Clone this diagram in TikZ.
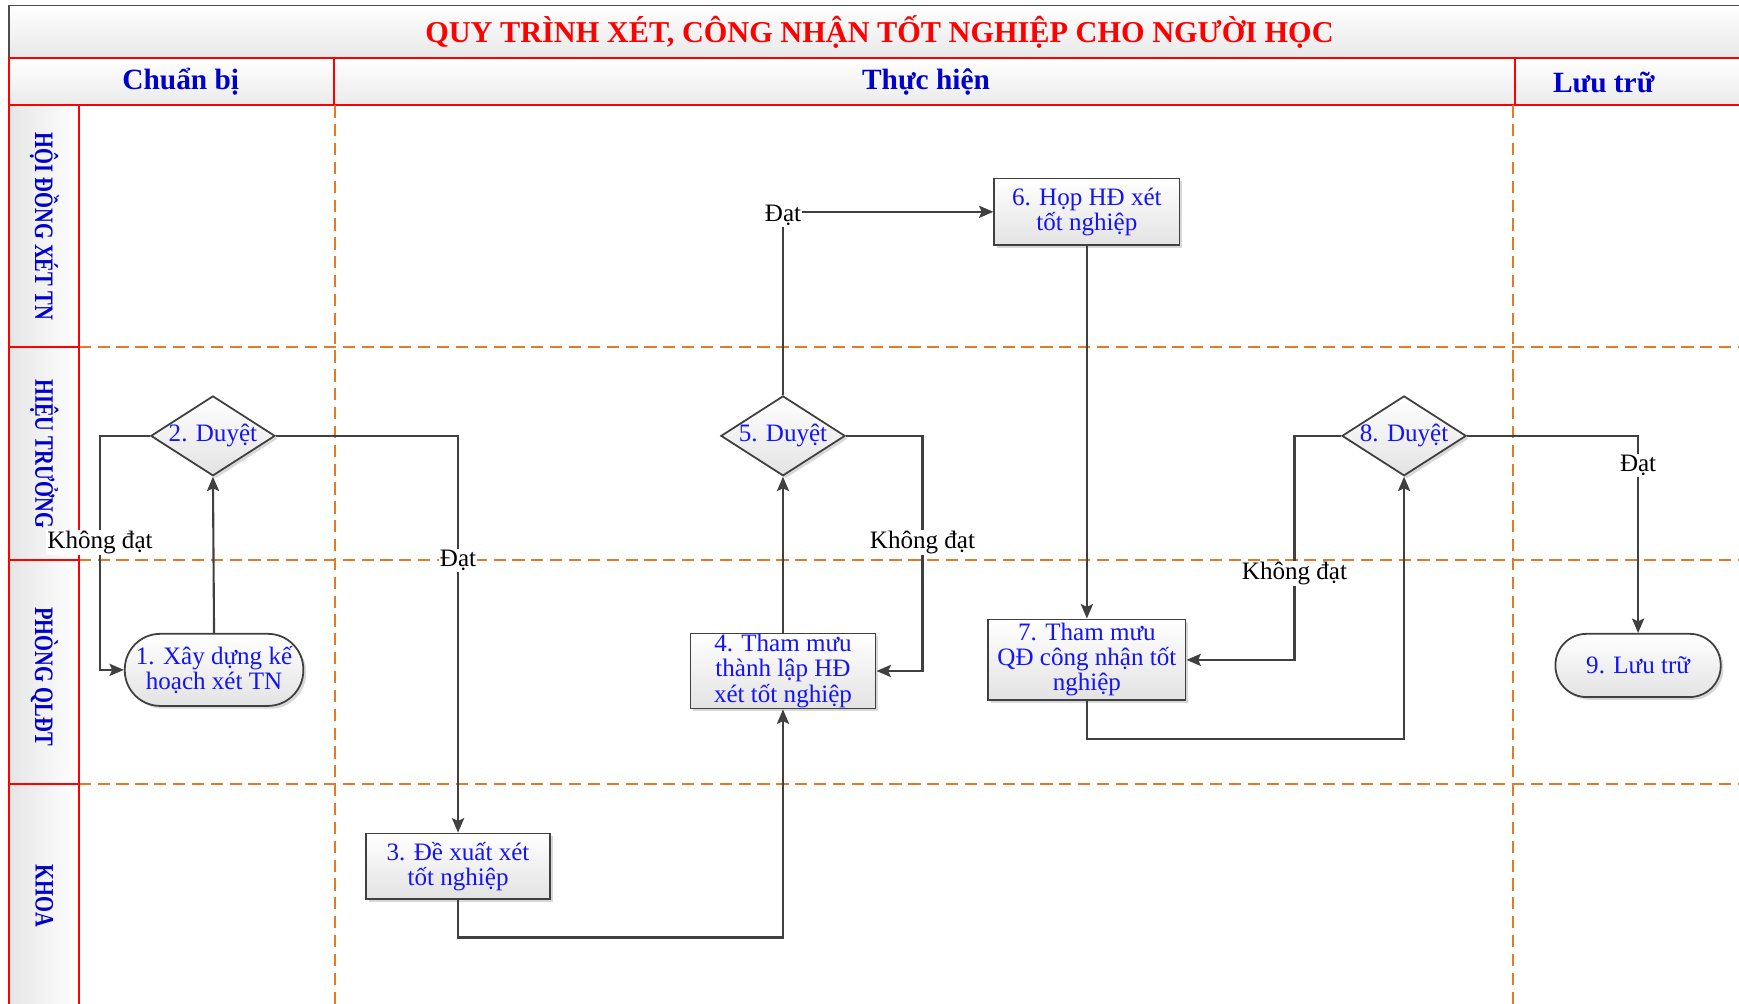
\documentclass[tikz,border=0pt]{standalone}
\usepackage{fontspec}
\usepackage{graphicx}
\setmainfont{Liberation Serif}
\usetikzlibrary{shapes.geometric,arrows.meta,shadows}
\definecolor{nodeblue}{RGB}{20,20,245}
\definecolor{headblue}{RGB}{0,0,205}
\definecolor{lanered}{RGB}{255,0,0}
\definecolor{dashorange}{RGB}{226,122,38}
\definecolor{linegray}{RGB}{64,64,64}
\definecolor{titlered}{RGB}{255,0,0}
\begin{document}
\begin{tikzpicture}[x=1pt,y=-1pt,
  every node/.style={font=\fontsize{22.6}{22.6}\selectfont},
  boxshade/.style={top color=white,bottom color=black!11,draw=linegray,line width=1.6pt,
    drop shadow={shadow xshift=2.5pt,shadow yshift=-2.5pt,fill=black!30,opacity=0.5}},
  procbox/.style={boxshade,rectangle,text=nodeblue,align=center,inner sep=1pt},
  termbox/.style={boxshade,rectangle,rounded corners=32pt,text=nodeblue,align=center,inner sep=1pt},
  decbox/.style={boxshade,diamond,aspect=1.556,inner sep=0pt,minimum width=112pt,minimum height=72pt,text=nodeblue},
  conn/.style={draw=linegray,line width=1.9pt,-{Stealth[length=13pt,width=11pt,inset=2.5pt]}},
  lbl/.style={fill=white,text=black,inner sep=1pt},
  lane/.style={draw=lanered,line width=1.8pt,left color=black!10,right color=white},
  lanetext/.style={rotate=-90,text=headblue,font=\fontsize{24}{24}\selectfont\bfseries},
  hdr/.style={draw=lanered,line width=1.8pt,top color=white,bottom color=black!8},
  hdrtext/.style={text=headblue,font=\fontsize{26.5}{26.5}\selectfont\bfseries},
  sep/.style={draw=dashorange,line width=1.8pt,dash pattern=on 11pt off 6pt},
]
\useasboundingbox (0,0) rectangle (1568,905);
\begin{scope}
\clip (0,0) rectangle (1568,905);
% title
\path[draw=black!70,line width=1.6pt,top color=white,bottom color=black!9] (8,5) rectangle (1590,52);
\node[font=\fontsize{27.3}{27.3}\selectfont\bfseries,text=titlered] (title) at (793,29) {QUY TRÌNH XÉT, CÔNG NHẬN TỐT NGHIỆP CHO NGƯỜI HỌC};
% header row
\path[hdr] (8,52) rectangle (301,95);
\path[hdr] (301,52) rectangle (1366,95);
\path[hdr] (1366,52) rectangle (1590,95);
\node[hdrtext] (hprep) at (163,74) {Chuẩn bị};
\node[hdrtext] (hexec) at (835,74) {Thực hiện};
\node[hdrtext] (hstore) at (1446,74) {Lưu trữ};
% dashed separators
\draw[sep] (71,313) -- (1590,313);
\draw[sep] (71,505) -- (1590,505);
\draw[sep] (71,707) -- (1590,707);
\draw[sep] (302,95) -- (302,910);
\draw[sep] (1364,95) -- (1364,910);
% lanes
\path[lane] (8,95) rectangle (71,313);
\path[lane] (8,313) rectangle (71,505);
\path[lane] (8,505) rectangle (71,707);
\path[lane] (8,707) rectangle (71,915);
\node[lanetext] (lane1) at (40,204) {\scalebox{0.77}[1]{HỘI ĐỒNG XÉT TN}};
\node[lanetext] (lane2) at (40,409) {\scalebox{0.77}[1]{HIỆU TRƯỞNG}};
\node[lanetext] (lane3) at (40,610) {\scalebox{0.77}[1]{PHÒNG QLĐT}};
\node[lanetext] (lane4) at (40,808) {\scalebox{0.77}[1]{KHOA}};
% process nodes
\node[termbox,minimum width=161pt,minimum height=65pt] (n1) at (193,604) {1. Xây dựng kế\\hoạch xét TN};
\node[decbox] (n2) at (192,393) {2. Duyệt};
\node[procbox,minimum width=166pt,minimum height=59pt] (n3) at (413,781) {3. Đề xuất xét\\tốt nghiệp};
\node[procbox,minimum width=167pt,minimum height=67pt] (n4) at (706,605) {4. Tham mưu\\thành lập HĐ\\xét tốt nghiệp};
\node[decbox] (n5) at (706,393) {5. Duyệt};
\node[procbox,minimum width=167pt,minimum height=60pt] (n6) at (980,191) {6. Họp HĐ xét\\tốt nghiệp};
\node[procbox,minimum width=178pt,minimum height=73pt] (n7) at (980,595) {7. Tham mưu\\QĐ công nhận tốt\\nghiệp};
\node[decbox] (n8) at (1266,393) {8. Duyệt};
\node[termbox,minimum width=149pt,minimum height=57pt,rounded corners=28pt] (n9) at (1477,600) {9. Lưu trữ};
% connectors
\draw[conn] (n1.north) -- (n2.south);
\draw[conn] (n2.west) -- ++(-45,0) |- node[lbl,pos=0.2275] (k1) {Không đạt} (n1.west);
\draw[conn] (n2.east) -| node[lbl,pos=0.657] (d1) {Đạt} (n3.north);
\draw[conn] (n3.south) -- ++(0,34) -| (n4.south);
\draw[conn] (n4.north) -- (n5.south);
\draw[conn] (n5.east) -- ++(69,0) |- node[lbl,pos=0.226] (k2) {Không đạt} (n4.east);
\draw[conn] (n5.north) |- node[lbl,pos=0.5,yshift=-3pt] (d2) {Đạt} (n6.west);
\draw[conn] (n6.south) -- (n7.north);
\draw[conn] (n7.south) -- ++(0,34) -| (n8.south);
\draw[conn] (n8.west) -- ++(-42,0) |- node[lbl,pos=0.307] (k3) {Không đạt} (n7.east);
\draw[conn] (n8.east) -| node[lbl,pos=0.575] (d3) {Đạt} (n9.north);
\end{scope}
\end{tikzpicture}
\end{document}
